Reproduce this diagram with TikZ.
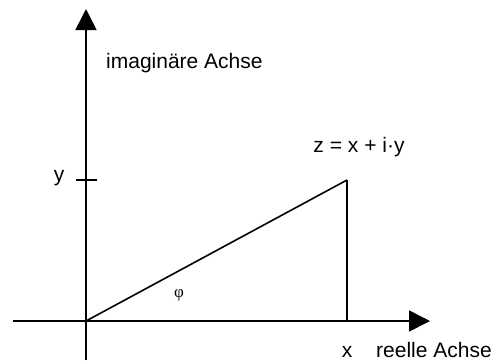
\documentclass[tikz,border=0pt]{standalone}
\usepackage{fontspec}
\setmainfont{Liberation Sans}
\newfontfamily\greekfont{Liberation Serif}
\usetikzlibrary{arrows.meta}

\begin{document}
\begin{tikzpicture}[x=1pt, y=-1pt,
    axis/.style={line width=1.6pt, -{Triangle[length=21pt, width=21pt]}},
    plain/.style={line width=1.6pt},
    label/.style={inner sep=0pt, font=\fontsize{21}{25}\selectfont}
]
    \useasboundingbox (0,0) rectangle (494,360);

    % axes
    \coordinate (origin) at (86,321);
    \coordinate (xstart) at (13,321);
    \coordinate (xend) at (430,321);
    \coordinate (ystart) at (86,360);
    \coordinate (yend) at (86,9);
    \draw[axis] (xstart) -- (xend);
    \draw[axis] (ystart) -- (yend);

    % point z and the triangle
    \coordinate (zpoint) at (347,180);
    \coordinate (xfoot) at (347,321);
    \coordinate (tickleft) at (76,180);
    \coordinate (tickright) at (97,180);
    \draw[plain] (origin) -- (zpoint);
    \draw[plain] (zpoint) -- (xfoot);
    \draw[plain] (tickleft) -- (tickright);

    % labels
    \node[label, anchor=base west] (imlabel) at (106,68) {imaginäre Achse};
    \node[label, anchor=base] (zlabel) at (359,152) {z = x + i·y};
    \node[label, anchor=base] (ylabel) at (59,181) {y};
    \node[label, anchor=base] (xlabel) at (347,357) {x};
    \node[label, anchor=base west] (relabel) at (376,357) {reelle Achse};
    \node[inner sep=0pt, font=\greekfont\fontsize{17}{20}\selectfont] (philabel) at (179,295.5) {φ};
\end{tikzpicture}
\end{document}
